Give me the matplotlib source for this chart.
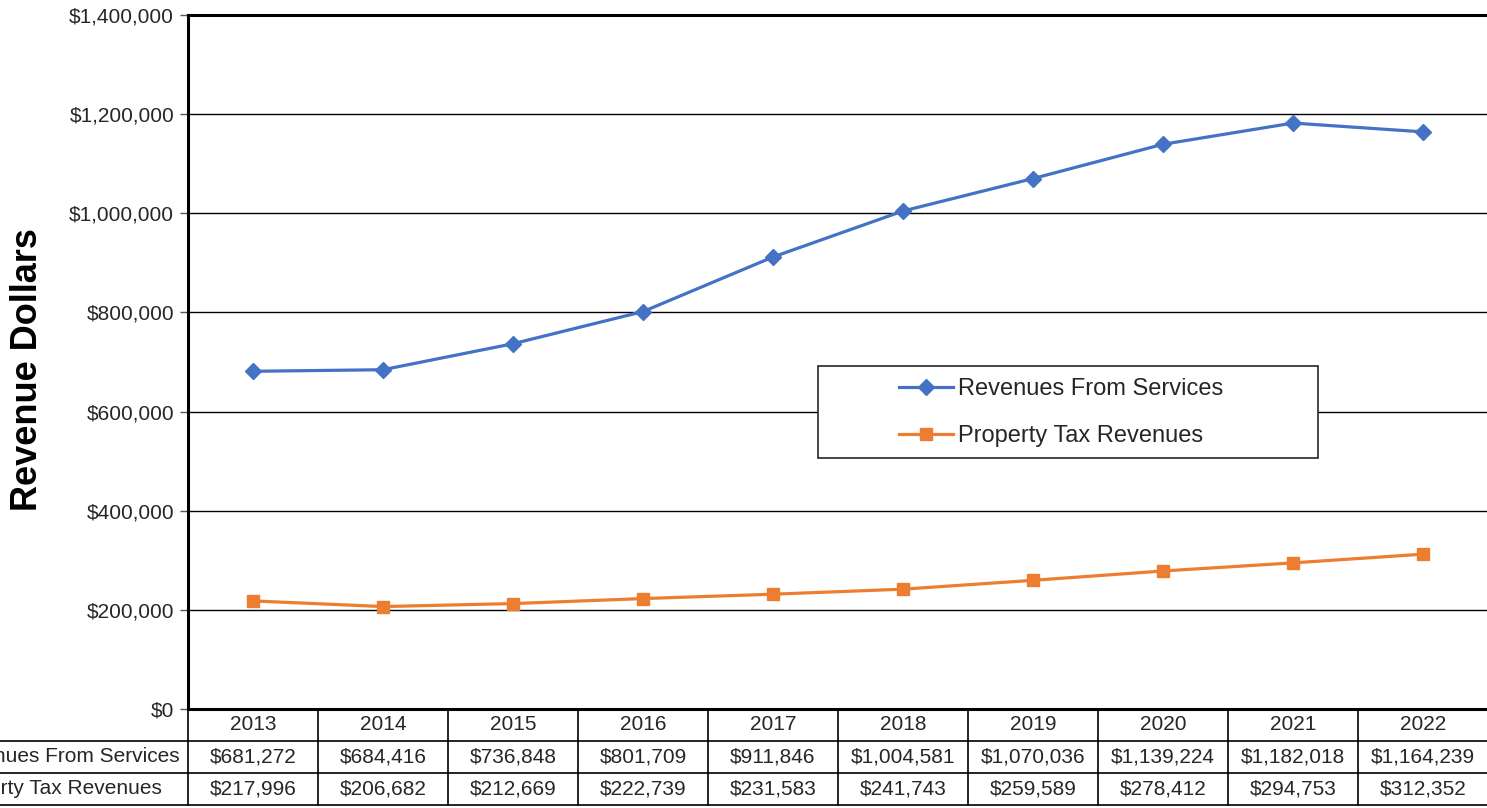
import matplotlib
matplotlib.use("Agg")
import matplotlib.pyplot as plt
import matplotlib.transforms as mtransforms
from matplotlib.lines import Line2D
from matplotlib.patches import Rectangle
from matplotlib.ticker import FuncFormatter, MultipleLocator

plt.rcParams['font.family'] = ['Liberation Sans', 'DejaVu Sans']

years = ["2013", "2014", "2015", "2016", "2017", "2018", "2019", "2020", "2021", "2022"]
services = [681272, 684416, 736848, 801709, 911846, 1004581, 1070036, 1139224, 1182018, 1164239]
property_tax = [217996, 206682, 212669, 222739, 231583, 241743, 259589, 278412, 294753, 312352]
series_names = ["Revenues From Services", "Property Tax Revenues"]
y_label = "Revenue Dollars"

W, H = 1487, 808
fig = plt.figure(figsize=(W / 100, H / 100), dpi=100)

def fx(p):
    return p / W

def fy(p):
    return 1 - p / H

left, right, top, bottom = 188, 1488, 15, 709
ax = fig.add_axes([fx(left), fy(bottom), fx(right - left), (bottom - top) / H])

blue = "#4472C4"
orange = "#ED7D31"
txtc = "#262626"
fs = 15

x = list(range(len(years)))
ax.plot(x, services, color=blue, lw=2.3, marker="D", ms=8.5, label=series_names[0], zorder=3)
ax.plot(x, property_tax, color=orange, lw=2.3, marker="s", ms=9, label=series_names[1], zorder=3)

ax.set_xlim(-0.5, len(years) - 0.5)
ax.set_ylim(0, 1400000)
ax.yaxis.set_major_locator(MultipleLocator(200000))
ax.yaxis.set_major_formatter(FuncFormatter(lambda v, p: f"${v:,.0f}"))
ax.grid(axis="y", color="black", lw=1.0)
ax.set_axisbelow(True)
ax.set_xticks([])
ax.tick_params(axis="y", length=6, width=1, color="#595959", labelsize=fs, labelcolor=txtc, pad=4)
for s in ["left", "bottom", "top"]:
    ax.spines[s].set_color("black")
    ax.spines[s].set_linewidth(2.2)
ax.spines["right"].set_visible(False)

fig.text(fx(28), fy(370), y_label, rotation=90, ha="center", va="center",
         fontsize=26, fontweight="bold", color="black")

# Legend box and legend
lx0, lx1, ly0, ly1 = 818, 1318, 366, 458
ax.add_patch(Rectangle((fx(lx0), fy(ly1)), fx(lx1 - lx0), (ly1 - ly0) / H,
                       transform=fig.transFigure, fill=True, facecolor="white",
                       edgecolor="#262626", lw=1.2, zorder=5, clip_on=False))
leg = ax.legend(loc="upper left", bbox_to_anchor=(fx(899), fy(378)),
                bbox_transform=fig.transFigure, frameon=False, fontsize=17,
                handlelength=2.3, handletextpad=0.22, labelspacing=1.05,
                borderpad=0, borderaxespad=0)
leg.set_zorder(6)
for t in leg.get_texts():
    t.set_color(txtc)

# Data table
trans = mtransforms.blended_transform_factory(ax.transData, fig.transFigure)
row_edges = [709, 741, 773, 805]
for r in row_edges[1:]:
    fig.add_artist(Line2D([0, 1], [fy(r), fy(r)], transform=fig.transFigure, color="black", lw=1.2))
for k in range(len(years) + 1):
    xe = k - 0.5
    fig.add_artist(Line2D([xe, xe], [fy(709), fy(805)], transform=trans, color="black", lw=1.2))

rows = [years,
        [f"${v:,.0f}" for v in services],
        [f"${v:,.0f}" for v in property_tax]]
for ri, row in enumerate(rows):
    yc = (row_edges[ri] + row_edges[ri + 1]) / 2
    for ci, val in enumerate(row):
        fig.text(ci, fy(yc), val, transform=trans, ha="center", va="center",
                 fontsize=fs, color=txtc)

yc1 = (row_edges[1] + row_edges[2]) / 2
yc2 = (row_edges[2] + row_edges[3]) / 2
t1 = fig.text(fx(180), fy(yc1), series_names[0], ha="right", va="center", fontsize=fs, color=txtc)
fig.canvas.draw()
bb = t1.get_window_extent()
x_start = bb.x0 / fig.bbox.width
fig.text(x_start, fy(yc2), series_names[1], ha="left", va="center", fontsize=fs, color=txtc)

fig.savefig("out.png", dpi=100)
